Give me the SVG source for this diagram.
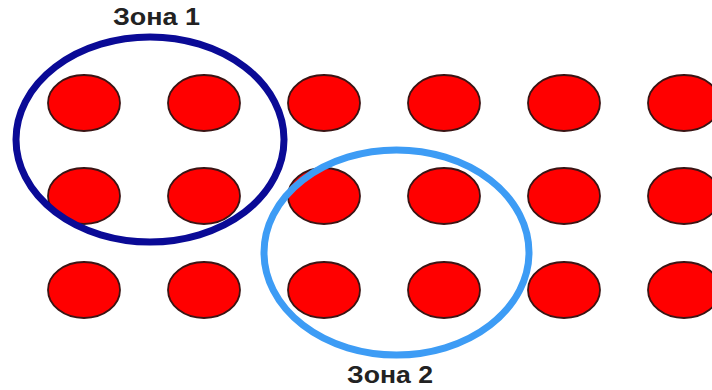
<svg xmlns="http://www.w3.org/2000/svg" width="712" height="390" viewBox="0 0 712 390">
<style>
.dot{fill:#ff0000;stroke:#3a1414;stroke-width:1.8}
.zone{fill:none;stroke-width:7}
.lbl{font-family:"Liberation Sans",Arial,sans-serif;font-weight:bold;font-size:24px;fill:#222;text-anchor:middle}
</style>
<rect width="712" height="390" fill="#fff"/>
<g id="dots">
<g id="r1c1"><ellipse class="dot" cx="84" cy="103" rx="36" ry="28"/></g>
<g id="r1c2"><ellipse class="dot" cx="204" cy="103" rx="36" ry="28"/></g>
<g id="r1c3"><ellipse class="dot" cx="324" cy="103" rx="36" ry="28"/></g>
<g id="r1c4"><ellipse class="dot" cx="444" cy="103" rx="36" ry="28"/></g>
<g id="r1c5"><ellipse class="dot" cx="564" cy="103" rx="36" ry="28"/></g>
<g id="r1c6"><ellipse class="dot" cx="684" cy="103" rx="36" ry="28"/></g>
<g id="r2c1"><ellipse class="dot" cx="84" cy="196" rx="36" ry="28"/></g>
<g id="r2c2"><ellipse class="dot" cx="204" cy="196" rx="36" ry="28"/></g>
<g id="r2c3"><ellipse class="dot" cx="324" cy="196" rx="36" ry="28"/></g>
<g id="r2c4"><ellipse class="dot" cx="444" cy="196" rx="36" ry="28"/></g>
<g id="r2c5"><ellipse class="dot" cx="564" cy="196" rx="36" ry="28"/></g>
<g id="r2c6"><ellipse class="dot" cx="684" cy="196" rx="36" ry="28"/></g>
<g id="r3c1"><ellipse class="dot" cx="84" cy="290" rx="36" ry="28"/></g>
<g id="r3c2"><ellipse class="dot" cx="204" cy="290" rx="36" ry="28"/></g>
<g id="r3c3"><ellipse class="dot" cx="324" cy="290" rx="36" ry="28"/></g>
<g id="r3c4"><ellipse class="dot" cx="444" cy="290" rx="36" ry="28"/></g>
<g id="r3c5"><ellipse class="dot" cx="564" cy="290" rx="36" ry="28"/></g>
<g id="r3c6"><ellipse class="dot" cx="684" cy="290" rx="36" ry="28"/></g>
</g>
<g id="zone1">
<ellipse class="zone" cx="150" cy="139.5" rx="134" ry="102.5" stroke="#0a0a96"/>
<text class="lbl" x="156.5" y="25" textLength="87" lengthAdjust="spacingAndGlyphs">Зона 1</text>
</g>
<g id="zone2">
<ellipse class="zone" cx="396.5" cy="252.5" rx="132.5" ry="102.5" stroke="#3d9cf5"/>
<text class="lbl" x="390" y="383" textLength="86" lengthAdjust="spacingAndGlyphs">Зона 2</text>
</g>
<g id="connectors"/>
</svg>
